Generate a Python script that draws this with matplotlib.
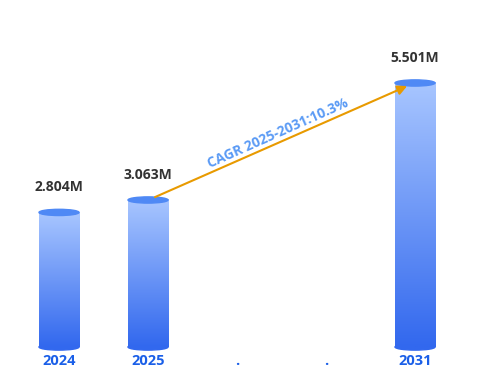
import numpy as np
import matplotlib.pyplot as plt
from matplotlib.patches import Ellipse
from matplotlib.colors import LinearSegmentedColormap

plt.rcParams['font.family'] = ['Open Sans', 'DejaVu Sans']

categories = ['2024', '2025', '.', '.', '2031']
values = [2.804, 3.063, None, None, 5.501]
labels = ['2.804M', '3.063M', None, None, '5.501M']
cagr_text = 'CAGR 2025-2031:10.3%'

bar_w = 0.45
cap_h = 0.13
grad = LinearSegmentedColormap.from_list('bar', ['#3268EE', '#A8C6FF'])

fig = plt.figure(figsize=(4.8, 3.9), dpi=100)
ax = fig.add_axes([0, 0, 1, 1])
ax.set_xlim(-0.663, 4.73)
ax.set_ylim(-0.896, 7.23)
ax.axis('off')

g = np.linspace(0, 1, 256).reshape(-1, 1)
for i, v in enumerate(values):
    if v is None:
        continue
    ax.imshow(g, cmap=grad, origin='lower', aspect='auto',
              extent=(i - bar_w / 2, i + bar_w / 2, 0, v), zorder=2)
    ax.add_patch(Ellipse((i, 0), bar_w, cap_h, color='#3268EE', zorder=1))
    ax.add_patch(Ellipse((i, v), bar_w, cap_h, color='#4F89F5', zorder=3))
    ax.text(i, v + 0.52, labels[i], ha='center', va='center',
            fontsize=10, fontweight='bold', color='#333333')

for i, c in enumerate(categories):
    ax.text(i, -0.29, c, ha='center', va='center', fontsize=10.5,
            fontweight='bold', color='#1A5FE8')

ax.annotate('', xy=(3.94, 5.46), xytext=(1.05, 3.1),
            arrowprops=dict(arrowstyle='-|>', color='#E89A00', lw=1.5,
                            mutation_scale=14), zorder=4)
ax.text(2.46, 4.46, cagr_text, ha='center', va='center', rotation=24,
        fontsize=10, fontweight='bold', color='#5B9BF5')

fig.savefig('out.png', dpi=100)
